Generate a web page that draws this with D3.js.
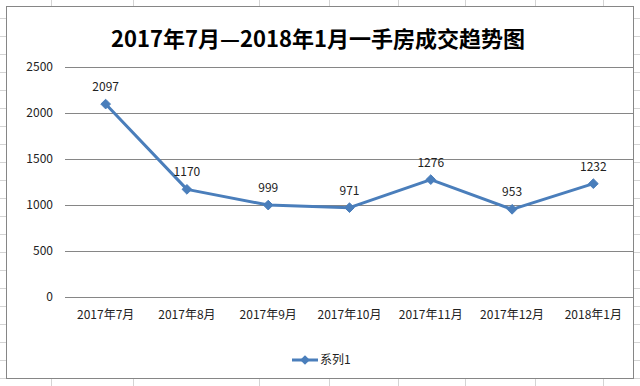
<!DOCTYPE html>
<html><head><meta charset="utf-8">
<script src="https://cdn.jsdelivr.net/npm/d3@7/dist/d3.min.js"></script>
<style>
html,body{margin:0;padding:0;background:#fff;}
svg{display:block;font-family:"Noto Sans CJK SC","Liberation Sans",sans-serif;}
</style></head>
<body>
<svg id="chart" width="640" height="386"></svg>
<script>
const titleText = "2017年7月—2018年1月一手房成交趋势图";
const seriesName = "系列1";
const categories = ["2017年7月","2017年8月","2017年9月","2017年10月","2017年11月","2017年12月","2018年1月"];
const values = [2097, 1170, 999, 971, 1276, 953, 1232];
const yTicks = [0, 500, 1000, 1500, 2000, 2500];

const W = 640, H = 386;
const svg = d3.select("#chart");
const lineColor = "#4a7ebb";

// spreadsheet grid behind the chart
const sheetCols = [51, 133, 259, 329, 398, 465, 535, 603];
const sheet = svg.append("g").attr("stroke", "#d4d4d4").attr("stroke-width", 1);
sheetCols.forEach(x => sheet.append("line").attr("x1", x + 0.5).attr("x2", x + 0.5).attr("y1", 0).attr("y2", H));
for (let y = 17.5; y < H; y += 18) {
  sheet.append("line").attr("x1", 0).attr("x2", W).attr("y1", Math.round(y) + 0.5).attr("y2", Math.round(y) + 0.5);
}

// chart frame
svg.append("rect").attr("x", 6.5).attr("y", 6.5).attr("width", 627).attr("height", 372)
  .attr("fill", "#fff").attr("stroke", "#868686").attr("stroke-width", 1);

const plot = {left: 65, right: 634, top: 67, bottom: 297};
const x = d3.scaleBand().domain(categories).range([plot.left, plot.right]);
const cx = c => x(c) + x.bandwidth() / 2;
const y = d3.scaleLinear().domain([0, 2500]).range([plot.bottom, plot.top]);

const fs = 12;

// gridlines + y labels
const yAxis = d3.axisLeft(y).tickValues(yTicks).tickSize(-(plot.right - 1 - plot.left)).tickPadding(12).tickFormat(d3.format("d"));
const gy = svg.append("g").attr("transform", `translate(${plot.left},0)`).call(yAxis);
gy.select(".domain").remove();
gy.selectAll(".tick line").attr("stroke", "#868686");
gy.selectAll(".tick text").attr("font-size", fs).attr("fill", "#222").attr("font-family", "Noto Sans CJK SC");

// x labels
const xAxis = d3.axisBottom(x).tickSize(0).tickPadding(13);
const gx = svg.append("g").attr("transform", `translate(0,${plot.bottom})`).call(xAxis);
gx.select(".domain").remove();
gx.selectAll(".tick text").attr("font-size", fs).attr("fill", "#222").attr("font-family", "Noto Sans CJK SC");

// line
const line = d3.line().x((d, i) => cx(categories[i])).y(d => y(d));
svg.append("path").datum(values).attr("d", line).attr("fill", "none")
  .attr("stroke", lineColor).attr("stroke-width", 3).attr("stroke-linejoin", "round");

const diamond = d3.symbol().type(d3.symbolDiamond2).size(60);
svg.append("g").selectAll("path").data(values).join("path")
  .attr("transform", (d, i) => `translate(${cx(categories[i])},${y(d)})`)
  .attr("d", diamond).attr("fill", lineColor).attr("stroke", lineColor).attr("stroke-width", 1);

// data labels
svg.append("g").selectAll("text").data(values).join("text")
  .attr("x", (d, i) => cx(categories[i]))
  .attr("y", d => y(d) - 13)
  .attr("text-anchor", "middle").attr("font-size", fs).attr("fill", "#222")
  .text(d => d);

// title
svg.append("text").attr("x", 318).attr("y", 47).attr("text-anchor", "middle")
  .attr("font-size", 22).attr("font-weight", "bold").attr("fill", "#000").text(titleText);

// legend
const lg = svg.append("g");
lg.append("line").attr("x1", 292).attr("x2", 318).attr("y1", 360).attr("y2", 360)
  .attr("stroke", lineColor).attr("stroke-width", 3);
lg.append("path").attr("transform", "translate(305,360)").attr("d", diamond).attr("fill", lineColor);
lg.append("text").attr("x", 320).attr("y", 364).attr("font-size", fs).attr("fill", "#222").text(seriesName);
</script>
</body></html>
